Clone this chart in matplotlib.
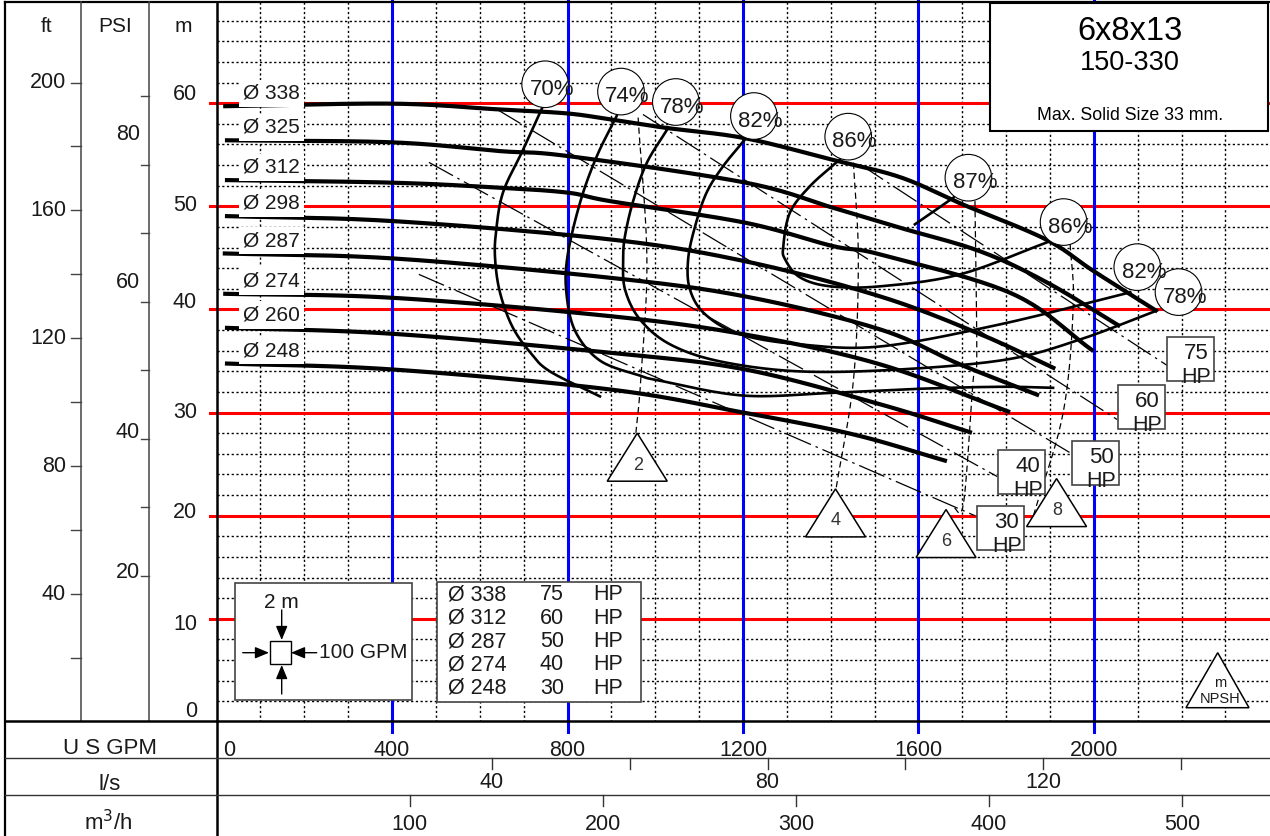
import numpy as np
import matplotlib
matplotlib.use("Agg")
import matplotlib.pyplot as plt
from matplotlib.patches import Rectangle, Circle, Polygon, FancyArrowPatch
from matplotlib.lines import Line2D
import matplotlib.transforms as mtransforms

plt.rcParams['font.family'] = ['Liberation Sans', 'DejaVu Sans']

# ---------------- head-capacity curves (US GPM, m) ----------------
q_338 = [15, 400, 640, 800, 900, 1025, 1205, 1405, 1560, 1700, 1890, 2000, 2145]
h_338 = [59.7, 59.95, 59.4, 59.0, 58.4, 57.6, 56.6, 54.5, 52.8, 50.2, 46.8, 43.7, 39.8]
q_325 = [19, 400, 646, 801, 1205, 1405, 1558, 1741, 1893, 2060]
h_325 = [56.4, 56.2, 55.35, 54.87, 52.3, 49.86, 47.92, 45.63, 42.62, 38.35]
q_312 = [19, 400, 646, 801, 897, 1205, 1405, 1513, 1815, 1999]
h_312 = [52.54, 52.29, 51.8, 51.32, 50.5, 48.41, 46.14, 45.33, 41.5, 35.96]
q_298 = [19, 400, 897, 1205, 1513, 1741, 1912]
h_298 = [49.05, 48.57, 46.79, 44.67, 41.26, 37.6, 34.25]
q_287 = [14, 400, 897, 1205, 1513, 1695, 1875]
h_287 = [45.43, 44.95, 43.07, 41.26, 38.06, 34.67, 31.66]
q_274 = [15, 400, 897, 1205, 1513, 1809]
h_274 = [41.52, 41.13, 39.35, 37.57, 34.67, 30.04]
q_260 = [19, 400, 897, 1205, 1513, 1722]
h_260 = [38.22, 37.64, 35.8, 34.18, 30.8, 28.04]
q_248 = [19, 400, 897, 1201, 1450, 1665]
h_248 = [34.76, 34.18, 32.24, 30.0, 27.9, 25.29]
diameters = [338, 325, 312, 298, 287, 274, 260, 248]

# ---------------- iso-efficiency curves (US GPM, m) ----------------
e70_q = [744, 699, 653, 637, 635, 646, 674, 715, 760, 874]
e70_h = [59.7, 55.5, 51.35, 47.5, 44.85, 41.65, 38.35, 35.83, 33.99, 31.57]
e74_q = [912, 867, 830, 801, 797, 817, 874, 965, 1010, 1200, 1399, 1597, 1786, 1907]
e74_h = [58.75, 54.87, 50.56, 45.42, 41.83, 37.95, 35.04, 33.59, 33.1, 31.65, 31.9, 32.3, 32.5, 32.4]
e78_q = [1030, 981, 950, 931, 927, 931, 965, 1034, 1148, 1330, 1558, 1802, 1969, 2144]
e78_h = [57.63, 54.23, 50.56, 47.11, 44.86, 41.95, 39.04, 36.61, 34.96, 33.99, 34.18, 35.15, 37.09, 39.9]
e82_q = [1205, 1155, 1117, 1091, 1075, 1079, 1114, 1194, 1330, 1513, 1786, 2083]
e82_h = [56.5, 53.9, 51.32, 48.08, 44.86, 41.95, 39.52, 37.58, 36.61, 36.41, 38.55, 41.66]
e86_q = [1421, 1353, 1307, 1292, 1296, 1330, 1399, 1513, 1695, 1893]
e86_h = [54.55, 51.96, 49.38, 46.14, 44.86, 43.11, 42.24, 42.24, 43.4, 46.5]
e87_q = [1592, 1680]
e87_h = [48.25, 50.84]

# efficiency bubbles
eff_top_labels = [70, 74, 78, 82, 86]
eff_top_q = [749, 922, 1047, 1225, 1440]
eff_top_h = [61.83, 61.12, 60.11, 58.75, 56.75]
eff_side_labels = [87, 86, 82, 78]
eff_side_q = [1714, 1931, 2099, 2193]
eff_side_h = [52.77, 48.47, 44.1, 41.68]

# ---------------- power lines (US GPM, m) ----------------
hp75_q = [1467, 2167]
hp75_h = [54.06, 34.57]
hp60_q = [972, 2053]
hp60_h = [58.9, 29.33]
hp50_q = [639, 1946]
hp50_h = [59.4, 26.1]
hp40_q = [484, 1780]
hp40_h = [54.26, 23.79]
hp30_q = [461, 1729]
hp30_h = [43.4, 20.0]
hp_box_values = [75, 60, 50, 40, 30]
hp_box_q = [2167, 2054, 1950, 1782, 1734]
hp_box_h = [37.3, 32.66, 27.22, 26.35, 20.92]

# ---------------- NPSH (m) ----------------
n2_q = [961, 981, 967, 956]
n2_h = [58.6, 44.86, 33.2, 28.04]
n4_q = [1452, 1463, 1452, 1412]
n4_h = [54.23, 44.86, 33.2, 22.54]
n6_q = [1729, 1733, 1725, 1703, 1679]
n6_h = [50.5, 35.15, 33.2, 21.27, 20.78]
n8_q = [1946, 1953, 1930, 1862]
n8_h = [46.33, 40.3, 30.0, 19.95]
npsh_values = [2, 4, 6, 8]
npsh_q = [959, 1411, 1663, 1915]
npsh_h = [28.0, 22.6, 20.6, 23.6]

# ---------------- motor table ----------------
table_dia = [338, 312, 287, 274, 248]
table_hp = [75, 60, 50, 40, 30]

# ---------------- scales ----------------
gpm_ticks = [0, 400, 800, 1200, 1600, 2000]
ls_ticks = [40, 60, 80, 100, 120, 140]
ls_labels = [40, 80, 120]
m3h_ticks = [100, 200, 300, 400, 500]
ft_ticks = [20, 40, 60, 80, 100, 120, 140, 160, 180, 200]
ft_labels = [40, 80, 120, 160, 200]
psi_ticks = [20, 30, 40, 50, 60, 70, 80, 90]
psi_labels = [20, 40, 60, 80]
psi_label_m = [14.5, 28.1, 42.6, 56.97]
m_labels = [0, 10, 20, 30, 40, 50, 60]
m_label_m = [1.0, 9.5, 20.3, 30.05, 40.7, 50.1, 60.85]

GPM_PER_LS = 15.7
GPM_PER_M3H = 4.403
M_PER_FT = 0.31
PSI_M0, M_PER_PSI = 0.91, 0.664

# ---------------- figure ----------------
W, H = 1270, 836
fig = plt.figure(figsize=(W / 100, H / 100), dpi=100)
AX_L, AX_R, AX_T, AX_B = 216.6, 1269.3, 0.0, 722.0
ax = fig.add_axes([AX_L / W, 1 - AX_B / H, (AX_R - AX_L) / W, (AX_B - AX_T) / H])
ax.set_xlim(0, 2400)
ax.set_ylim(0, 70)
ax.axis('off')

TXT = '#1a1a1a'
SX, SY = (AX_R - AX_L) / 2400, (AX_B - AX_T) / 70


def fy(y):
    return 1 - y / H


def fline(xs, ys, lw=1.5, color='black', **kw):
    fig.add_artist(Line2D([x / W for x in xs], [fy(y) for y in ys], lw=lw,
                          color=color, transform=fig.transFigure, **kw))


def smooth(xs, ys, n=24):
    p = np.column_stack([xs, ys]).astype(float) * [SX, SY]
    if len(p) < 3:
        return np.asarray(xs, float), np.asarray(ys, float)
    p = np.vstack([2 * p[0] - p[1], p, 2 * p[-1] - p[-2]])
    out = []
    t = np.linspace(0, 1, n, endpoint=False)[:, None]
    for i in range(1, len(p) - 2):
        p0, p1, p2, p3 = p[i - 1], p[i], p[i + 1], p[i + 2]
        seg = 0.5 * (2 * p1 + (-p0 + p2) * t + (2 * p0 - 5 * p1 + 4 * p2 - p3) * t ** 2
                     + (-p0 + 3 * p1 - 3 * p2 + p3) * t ** 3)
        out.append(seg)
    out.append(p[-2][None, :])
    out = np.vstack(out) / [SX, SY]
    return out[:, 0], out[:, 1]


def anchored(q, h):
    # offsets in inches around a data point
    return fig.dpi_scale_trans + mtransforms.ScaledTranslation(q, h, ax.transData)


# grid
dot = (0, (1.6, 1.8))
for q in range(100, 2400, 100):
    if q % 400:
        ax.plot([q, q], [0, 70], color='black', lw=1.0, ls=dot, zorder=1)
for hh in range(2, 70, 2):
    if hh % 10:
        ax.plot([0, 2400], [hh, hh], color='black', lw=1.0, ls=dot, zorder=1)
for hh in range(10, 70, 10):
    ax.plot([-16, 2400], [hh, hh], color='#ff0000', lw=2.2, zorder=2, clip_on=False)
for q in range(400, 2400, 400):
    ax.plot([q, q], [-0.95, 70], color='#0000ff', lw=2.2, zorder=2, clip_on=False)

# head curves
heads = [(q_338, h_338), (q_325, h_325), (q_312, h_312), (q_298, h_298),
         (q_287, h_287), (q_274, h_274), (q_260, h_260), (q_248, h_248)]
for d, (qq, hh) in zip(diameters, heads):
    xs, ys = smooth(qq, hh)
    ax.plot(xs, ys, color='black', lw=3.0, solid_capstyle='butt', zorder=5)
    ax.text(60, hh[0] + 1.25, f'Ø {d}', fontsize=15, color=TXT, ha='left', va='center',
            zorder=7, bbox=dict(boxstyle='square,pad=0.2', fc='white', ec='none'))

# efficiency curves
for qq, hh in [(e70_q, e70_h), (e74_q, e74_h), (e78_q, e78_h), (e82_q, e82_h),
               (e86_q, e86_h), (e87_q, e87_h)]:
    xs, ys = smooth(qq, hh)
    ax.plot(xs, ys, color='black', lw=1.9, zorder=4)

# power lines
dashdot = (0, (22, 4, 2, 4))
for qq, hh in [(hp75_q, hp75_h), (hp60_q, hp60_h), (hp50_q, hp50_h),
               (hp40_q, hp40_h), (hp30_q, hp30_h)]:
    ax.plot(qq, hh, color='black', lw=0.9, ls=dashdot, zorder=4)

# NPSH lines
for qq, hh in [(n2_q, n2_h), (n4_q, n4_h), (n6_q, n6_h), (n8_q, n8_h)]:
    xs, ys = smooth(qq, hh)
    ax.plot(xs, ys, color='black', lw=0.9, ls=(0, (5, 3)), zorder=4)

# efficiency bubbles
R = 0.233
for lab, q, h in list(zip(eff_top_labels, eff_top_q, eff_top_h)) + \
        list(zip(eff_side_labels, eff_side_q, eff_side_h)):
    tr = anchored(q, h)
    ax.add_patch(Circle((0, 0), R, transform=tr, fc='white', ec='black', lw=0.8, zorder=8))
    ax.text(0.065, -0.05, f'{lab}%', transform=tr, fontsize=16, color=TXT,
            ha='center', va='center', zorder=9)

# HP boxes
for v, q, h in zip(hp_box_values, hp_box_q, hp_box_h):
    tr = anchored(q, h)
    ax.add_patch(Rectangle((0, -0.44), 0.47, 0.44, transform=tr, fc='white',
                           ec='#444444', lw=1.2, zorder=8))
    ax.text(0.295, -0.16, f'{v}', transform=tr, fontsize=16, color=TXT,
            ha='center', va='center', zorder=9)
    ax.text(0.295, -0.40, 'HP', transform=tr, fontsize=15.5, color=TXT,
            ha='center', va='center', zorder=9)

# NPSH triangles
for v, q, h in zip(npsh_values, npsh_q, npsh_h):
    tr = anchored(q, h)
    ax.add_patch(Polygon([(0, 0), (-0.30, -0.48), (0.30, -0.48)], closed=True,
                         transform=tr, fc='white', ec='black', lw=1.1, zorder=8))
    ax.text(0.005, -0.32, f'{v}', transform=tr, fontsize=13, color='#333333',
            ha='center', va='center', zorder=9)

# title box
fig.add_artist(Rectangle((990 / W, fy(131)), 278 / W, 128 / H, transform=fig.transFigure,
                         fc='white', ec='black', lw=1.5, zorder=10))
fig.text(1130 / W, fy(31), '6x8x13', fontsize=23.5, color='black', ha='center', va='center', zorder=11)
fig.text(1130 / W, fy(63), '150-330', fontsize=19.5, color='black', ha='center', va='center', zorder=11)
fig.text(1130 / W, fy(115), 'Max. Solid Size 33 mm.', fontsize=12.8, color='black',
         ha='center', va='center', zorder=11)

# scale key box
fig.add_artist(Rectangle((235 / W, fy(700)), 176.7 / W, 116.7 / H, transform=fig.transFigure,
                         fc='white', ec='#444444', lw=1.2, zorder=10))
fig.text(281 / W, fy(602), '2 m', fontsize=15, color=TXT, ha='center', va='center', zorder=11)
fig.add_artist(Rectangle((269.5 / W, fy(664.3)), 21 / W, 23.6 / H, transform=fig.transFigure,
                         fc='white', ec='black', lw=1.0, zorder=11))
arrow_kw = dict(arrowstyle='-|>,head_length=0.6,head_width=0.25', color='black', lw=1.0,
                shrinkA=0, shrinkB=0)
for (x0, y0), (x1, y1) in [((281.7, 610), (281.7, 640)), ((281.7, 694), (281.7, 665)),
                           ((242.7, 652.7), (269.0, 652.7)), ((316.7, 652.7), (291.0, 652.7))]:
    fig.add_artist(FancyArrowPatch((x0 / W, fy(y0)), (x1 / W, fy(y1)), transform=fig.transFigure,
                                   mutation_scale=14, zorder=12, **arrow_kw))
fig.text(319 / W, fy(653), '100 GPM', fontsize=15, color=TXT, ha='left', va='center', zorder=11)

# motor table
fig.add_artist(Rectangle((436.7 / W, fy(701.7)), 204 / W, 120 / H, transform=fig.transFigure,
                         fc='white', ec='#444444', lw=1.2, zorder=10))
for i, (d, hp) in enumerate(zip(table_dia, table_hp)):
    y = 595 + i * 23.3
    fig.text(448 / W, fy(y), f'Ø {d}', fontsize=15.5, color=TXT, ha='left', va='center', zorder=11)
    fig.text(540 / W, fy(y), f'{hp}', fontsize=15.5, color=TXT, ha='left', va='center', zorder=11)
    fig.text(593 / W, fy(y), 'HP', fontsize=15.5, color=TXT, ha='left', va='center', zorder=11)

# NPSH key triangle
fig.add_artist(Polygon([(1217.7 / W, fy(652.7)), (1186 / W, fy(707.7)), (1249 / W, fy(707.7))],
                       closed=True, transform=fig.transFigure, fc='white', ec='black', lw=1.1, zorder=10))
fig.text(1220 / W, fy(683), 'm', fontsize=10.5, color=TXT, ha='center', va='center', zorder=11)
fig.text(1220 / W, fy(699), 'NPSH', fontsize=10.5, color=TXT, ha='center', va='center', zorder=11)

# ---------------- frame ----------------
fline([5, 1270], [2, 2], lw=1.6)
fline([5, 5], [2, 836], lw=1.6)
fline([217, 217], [2, 836], lw=1.8)
fline([81, 81], [2, 721], lw=1.1, color='#444444')
fline([149, 149], [2, 721], lw=1.1, color='#444444')
fline([5, 1270], [721, 721], lw=1.8)
fline([5, 1270], [758.3, 758.3], lw=1.0, color='#333333')
fline([5, 1270], [795, 795], lw=1.0, color='#333333')

# ---------------- left unit columns ----------------
ytr = mtransforms.blended_transform_factory(fig.transFigure, ax.transData)
fig.text(47 / W, fy(27), 'ft', fontsize=15, color=TXT, ha='center', va='center')
fig.text(115 / W, fy(27), 'PSI', fontsize=15, color=TXT, ha='center', va='center')
fig.text(183 / W, fy(27), 'm', fontsize=15, color=TXT, ha='center', va='center')
for v in ft_ticks:
    m = v * M_PER_FT
    fig.add_artist(Line2D([71 / W, 81 / W], [m, m], transform=ytr, color='#444444', lw=1.0))
    if v in ft_labels:
        fig.text(66 / W, m, f'{v}', transform=ytr, fontsize=15.5, color=TXT, ha='right', va='center')
for v in psi_ticks:
    m = PSI_M0 + v * M_PER_PSI
    fig.add_artist(Line2D([141 / W, 149 / W], [m, m], transform=ytr, color='#444444', lw=1.0))
for v, m in zip(psi_labels, psi_label_m):
    fig.text(140 / W, m, f'{v}', transform=ytr, fontsize=15.5, color=TXT, ha='right', va='center')
for v, m in zip(m_labels, m_label_m):
    fig.text(197 / W, m, f'{v}', transform=ytr, fontsize=15.5, color=TXT, ha='right', va='center')

# ---------------- bottom flow scales ----------------
xtr = mtransforms.blended_transform_factory(ax.transData, fig.transFigure)
fig.text(110 / W, fy(748), 'U S GPM', fontsize=16, color=TXT, ha='center', va='center')
fig.text(110 / W, fy(785), 'l/s', fontsize=16, color=TXT, ha='center', va='center')
fig.text(108 / W, fy(823), 'm$^3$/h', fontsize=16, color=TXT, ha='center', va='center')
for q in gpm_ticks:
    if q == 0:
        fig.text(223 / W, fy(751), '0', fontsize=15.5, color=TXT, ha='left', va='center')
    else:
        fig.text(q, fy(751), f'{q}', transform=xtr, fontsize=15.5, color=TXT, ha='center', va='center')
for v in ls_ticks:
    q = v * GPM_PER_LS
    fig.add_artist(Line2D([q, q], [fy(758.3), fy(769)], transform=xtr, color='#333333', lw=1.0))
    if v in ls_labels:
        fig.text(q, fy(783), f'{v}', transform=xtr, fontsize=15.5, color=TXT, ha='center', va='center')
for v in m3h_ticks:
    q = v * GPM_PER_M3H
    fig.add_artist(Line2D([q, q], [fy(795), fy(806)], transform=xtr, color='#333333', lw=1.0))
    fig.text(q, fy(824), f'{v}', transform=xtr, fontsize=15.5, color=TXT, ha='center', va='center')

fig.savefig('out.png', dpi=100)
